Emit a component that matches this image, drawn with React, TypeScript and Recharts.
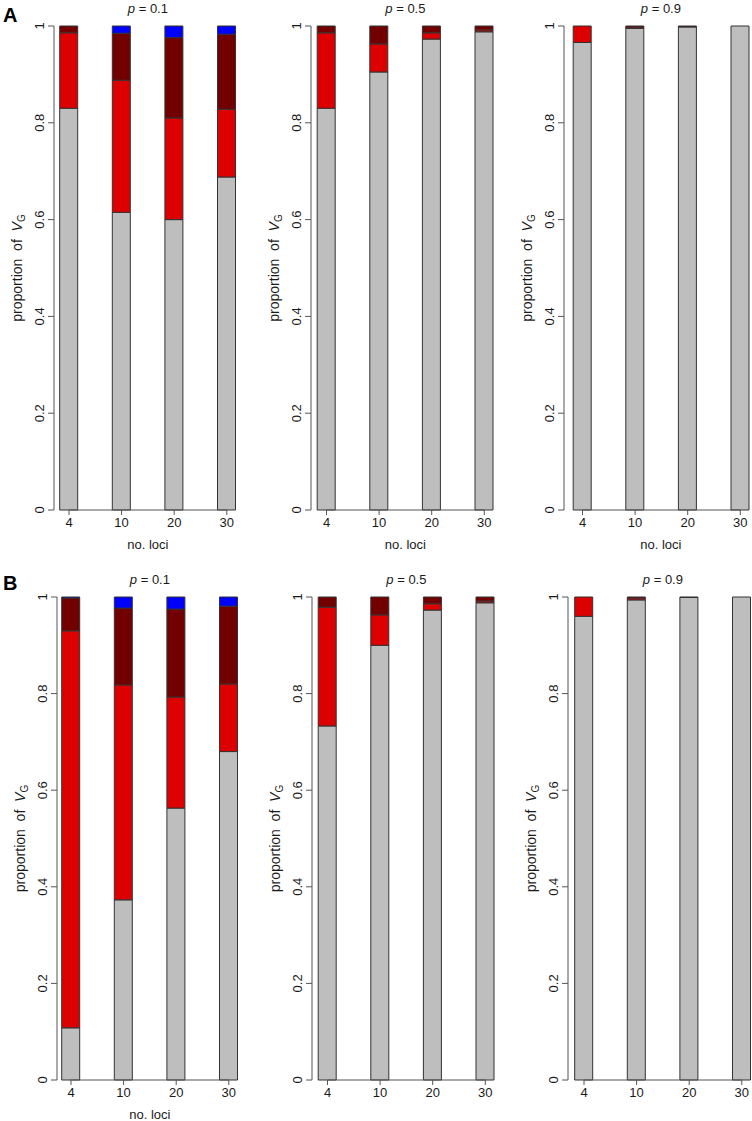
import React from 'react';
import { BarChart, Bar, XAxis, YAxis, ReferenceLine } from 'recharts';

// ---------- data ----------
const loci = ['4', '10', '20', '30'];
const yTicks = [0, 0.2, 0.4, 0.6, 0.8, 1];

// Panel A
const aP01Grey = [0.83, 0.615, 0.6, 0.688];
const aP01Red = [0.156, 0.273, 0.21, 0.14];
const aP01DarkRed = [0.014, 0.097, 0.166, 0.155];
const aP01Blue = [0, 0.015, 0.024, 0.017];

const aP05Grey = [0.83, 0.905, 0.973, 0.988];
const aP05Red = [0.156, 0.058, 0.013, 0.004];
const aP05DarkRed = [0.014, 0.037, 0.014, 0.008];
const aP05Blue = [0, 0, 0, 0];

const aP09Grey = [0.966, 0.995, 0.998, 1.0];
const aP09Red = [0.034, 0.003, 0, 0];
const aP09DarkRed = [0, 0.002, 0.002, 0];
const aP09Blue = [0, 0, 0, 0];

// Panel B
const bP01Grey = [0.108, 0.373, 0.563, 0.68];
const bP01Red = [0.822, 0.445, 0.23, 0.14];
const bP01DarkRed = [0.068, 0.159, 0.182, 0.161];
const bP01Blue = [0.002, 0.023, 0.025, 0.019];

const bP05Grey = [0.733, 0.9, 0.973, 0.988];
const bP05Red = [0.246, 0.063, 0.013, 0.004];
const bP05DarkRed = [0.021, 0.037, 0.014, 0.008];
const bP05Blue = [0, 0, 0, 0];

const bP09Grey = [0.96, 0.994, 0.999, 1.0];
const bP09Red = [0.04, 0.004, 0, 0];
const bP09DarkRed = [0, 0.002, 0.001, 0];
const bP09Blue = [0, 0, 0, 0];

const build = (g: number[], r: number[], d: number[], b: number[]) =>
  loci.map((l, i) => ({ x: i, label: l, grey: g[i], red: r[i], dark: d[i], blue: b[i] }));

// ---------- style / layout ----------
const FONT = '"Liberation Sans", Arial, Helvetica, sans-serif';
const GREY = '#BEBEBE';
const RED = '#DD0000';
const DARK = '#720000';
const BLUE = '#0000FF';
const EDGE = '#333333';
const AXIS = '#555555';
const TXT = '#1a1a1a';
const SP = 52.6; // px between bar centres
const PW = 200; // plot width
const YW = 50; // y axis width
const MT = 10;

type PanelCfg = {
  p: string;
  data: ReturnType<typeof build>;
  axisX: number;
  c0: number;
  top: number;
  bottom: number;
  xTitle: boolean;
};

const panels: PanelCfg[] = [
  { p: '0.1', data: build(aP01Grey, aP01Red, aP01DarkRed, aP01Blue), axisX: 54, c0: 69, top: 26, bottom: 510, xTitle: true },
  { p: '0.5', data: build(aP05Grey, aP05Red, aP05DarkRed, aP05Blue), axisX: 311, c0: 326.5, top: 26, bottom: 510, xTitle: true },
  { p: '0.9', data: build(aP09Grey, aP09Red, aP09DarkRed, aP09Blue), axisX: 563.5, c0: 582, top: 26, bottom: 510, xTitle: true },
  { p: '0.1', data: build(bP01Grey, bP01Red, bP01DarkRed, bP01Blue), axisX: 57, c0: 71, top: 597, bottom: 1080, xTitle: true },
  { p: '0.5', data: build(bP05Grey, bP05Red, bP05DarkRed, bP05Blue), axisX: 312, c0: 327.5, top: 597, bottom: 1080, xTitle: false },
  { p: '0.9', data: build(bP09Grey, bP09Red, bP09DarkRed, bP09Blue), axisX: 568, c0: 584, top: 597, bottom: 1080, xTitle: false },
];

const YTick = (props: any) => {
  const { x, y, payload } = props;
  return (
    <text
      transform={`translate(${x - 2},${y}) rotate(-90)`}
      textAnchor="middle"
      fontSize={13}
      fontFamily={FONT}
      fill={TXT}
    >
      {String(payload.value)}
    </text>
  );
};

const Panel = ({ cfg }: { cfg: PanelCfg }) => {
  const plotH = cfg.bottom - cfg.top;
  const d0 = -(cfg.c0 - cfg.axisX) / SP;
  const d1 = d0 + PW / SP;
  const width = YW + PW + 2;
  const height = MT + plotH + 30;
  return (
    <div style={{ position: 'absolute', left: cfg.axisX - YW, top: cfg.top - MT, width, height }}>
      <BarChart
        width={width}
        height={height}
        data={cfg.data}
        margin={{ top: MT, right: 2, bottom: 0, left: 0 }}
      >
        <XAxis
          type="number"
          dataKey="x"
          domain={[d0, d1]}
          allowDataOverflow
          ticks={[0, 1, 2, 3]}
          interval={0}
          tickFormatter={(v: number) => loci[v]}
          axisLine={false}
          tickLine={{ stroke: AXIS }}
          tickSize={5}
          tickMargin={3}
          height={30}
          tick={{ fill: TXT, fontSize: 13, fontFamily: FONT }}
        />
        <YAxis
          type="number"
          domain={[0, 1]}
          ticks={yTicks}
          interval={0}
          width={YW}
          axisLine={{ stroke: AXIS }}
          tickLine={{ stroke: AXIS }}
          tickSize={6}
          tickMargin={2}
          tick={<YTick />}
        />
        <ReferenceLine segment={[{ x: 0, y: 0 }, { x: 3, y: 0 }]} stroke={AXIS} />
        <Bar dataKey="grey" stackId="s" fill={GREY} stroke={EDGE} strokeWidth={1} barSize={18} isAnimationActive={false} />
        <Bar dataKey="red" stackId="s" fill={RED} stroke={EDGE} strokeWidth={1} barSize={18} isAnimationActive={false} />
        <Bar dataKey="dark" stackId="s" fill={DARK} stroke={EDGE} strokeWidth={1} barSize={18} isAnimationActive={false} />
        <Bar dataKey="blue" stackId="s" fill={BLUE} stroke={EDGE} strokeWidth={1} barSize={18} isAnimationActive={false} />
      </BarChart>
    </div>
  );
};

const Labels = () => (
  <svg
    width={752}
    height={1121}
    style={{ position: 'absolute', left: 0, top: 0, pointerEvents: 'none' }}
    fontFamily={FONT}
  >
    <text x={3} y={22} fontSize={20} fontWeight="bold" fill="#000">A</text>
    <text x={3} y={590} fontSize={20} fontWeight="bold" fill="#000">B</text>
    {panels.map((cfg, i) => {
      const cx = cfg.c0 + 1.5 * SP;
      const cy = (cfg.top + cfg.bottom) / 2;
      return (
        <g key={i}>
          <text x={cx} y={cfg.top - 13} textAnchor="middle" fontSize={13} fill={TXT}>
            <tspan fontStyle="italic">p</tspan> = {cfg.p}
          </text>
          {cfg.xTitle && (
            <text x={cx} y={cfg.bottom + 39} textAnchor="middle" fontSize={13} fill={TXT}>
              no. loci
            </text>
          )}
          <text
            transform={`translate(${cfg.axisX - 32},${cy}) rotate(-90)`}
            textAnchor="middle"
            fontSize={14}
            fill={TXT}
            style={{ whiteSpace: 'pre' }}
          >
            {'proportion  of  '}
            <tspan fontStyle="italic">V</tspan>
            <tspan fontSize={10} dy={3}>G</tspan>
          </text>
        </g>
      );
    })}
  </svg>
);

export default function App() {
  return (
    <div
      style={{
        position: 'absolute',
        left: 0,
        top: 0,
        width: 752,
        height: 1121,
        overflow: 'hidden',
        background: '#fff',
      }}
    >
      {panels.map((cfg, i) => (
        <Panel key={i} cfg={cfg} />
      ))}
      <Labels />
    </div>
  );
}
